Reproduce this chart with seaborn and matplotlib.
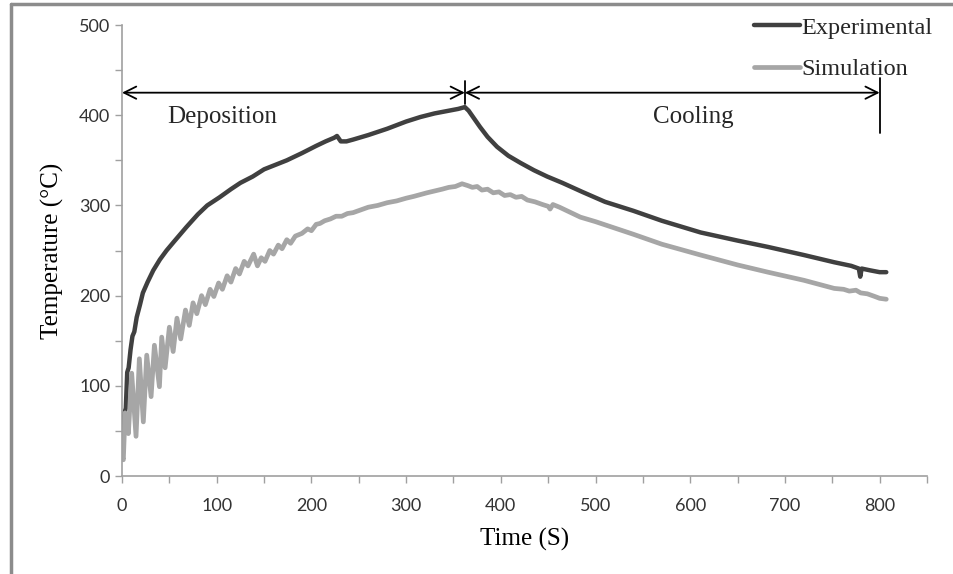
import pandas as pd
import matplotlib.pyplot as plt
import seaborn as sns
from matplotlib.lines import Line2D

# Experimental thermocouple curve
exp_time = [0, 1, 2.5, 4, 5.5, 7, 9, 11, 13, 15.5, 19, 22, 27, 33, 40, 47, 55, 68, 80, 90,
            103, 115, 125, 138, 150, 162, 174, 190, 205, 215, 224, 227, 231, 237, 244, 260,
            280, 300, 315, 330, 345, 355, 362, 366, 372, 378, 386, 396, 408, 421, 435, 449,
            465, 486, 510, 540, 570, 611, 650, 682, 720, 752, 770, 778, 779.5, 781, 790, 800, 807]
exp_temp = [20, 40, 70, 75, 115, 120, 140, 155, 160, 176, 190, 203, 215, 228, 240, 250, 260, 276, 290, 300,
            309, 318, 325, 332, 340, 345, 350, 358, 366, 371, 375, 377, 371, 371, 373, 378,
            385, 393, 398, 402, 405, 407, 409, 405, 396, 387, 376, 365, 355, 347, 339, 332,
            325, 315, 304, 294, 283, 270, 261, 254, 245, 237, 233, 230, 221, 230, 228, 226, 226]

# Simulation curve (oscillating during deposition)
sim_time = [0, 1.4, 3.2, 6.7, 10.2, 14.8, 18.3, 22.5, 26.1, 30.7, 34.2, 39.5, 41.9, 45.5, 50, 54, 58, 62,
            67, 71, 75, 79, 84, 88, 93, 97, 102, 106, 111, 115, 120, 124, 129, 133, 139, 143, 147,
            151, 156, 160, 165, 169, 174, 178, 183, 190, 196, 200, 205, 209, 214, 220, 226, 232,
            238, 244, 252, 260, 270, 280, 290, 300, 308, 315, 322, 330, 338, 345, 352, 359, 365,
            370, 375, 380, 386, 392, 398, 404, 410, 416, 422, 428, 436, 444, 450, 452, 455, 462,
            472, 484, 500, 520, 540, 570, 611, 650, 682, 720, 752, 762, 768, 775, 780, 787, 795, 800, 807]
sim_temp = [22, 18, 70, 47, 114, 44, 130, 60, 134, 88, 145, 99, 154, 120, 165, 138, 175, 152,
            184, 167, 192, 180, 200, 190, 207, 199, 214, 207, 222, 215, 230, 224, 238, 233, 246, 233, 242,
            238, 250, 246, 256, 252, 262, 258, 266, 269, 274, 272, 279, 280, 283, 285, 288, 288,
            291, 292, 295, 298, 300, 303, 305, 308, 310, 312, 314, 316, 318, 320, 321, 324, 322,
            320, 321, 317, 318, 314, 315, 311, 312, 309, 310, 306, 304, 301, 299, 296, 301, 298,
            293, 287, 282, 275, 268, 257, 245, 234, 226, 217, 208, 207, 205, 206, 203, 202, 199, 197, 196]

x_ticks = [0, 100, 200, 300, 400, 500, 600, 700, 800]
y_ticks = [0, 100, 200, 300, 400, 500]

exp_df = pd.DataFrame({'Time': exp_time, 'Temp': exp_temp})
sim_df = pd.DataFrame({'Time': sim_time, 'Temp': sim_temp})

sns.set_theme(style='ticks')
plt.rcParams['font.family'] = ['Liberation Serif', 'DejaVu Serif']

fig = plt.figure(figsize=(9.54, 5.74), dpi=100)
ax = fig.add_axes([0.1279, 0.1707, 0.9717 - 0.1279, 0.9564 - 0.1707])

sns.lineplot(data=exp_df, x='Time', y='Temp', color='#404040', lw=3.2, ax=ax, label='Experimental')
sns.lineplot(data=sim_df, x='Time', y='Temp', color='#a6a6a6', lw=3.4, ax=ax, label='Simulation')

ax.set_xlim(0, 850)
ax.set_ylim(0, 500)
ax.set_xticks(x_ticks)
ax.set_yticks(y_ticks)
ax.set_xticks([50, 150, 250, 350, 450, 550, 650, 750, 850], minor=True)
ax.set_yticks([50, 150, 250, 350, 450], minor=True)
ax.tick_params(which='both', length=5, width=1, color='#a0a0a0', direction='out')
for lab in ax.get_xticklabels() + ax.get_yticklabels():
    lab.set_fontfamily('Lato')
    lab.set_fontsize(13)
    lab.set_color('#333333')
ax.tick_params(axis='x', pad=11)
ax.tick_params(axis='y', pad=3.5)

sns.despine(ax=ax)
for side in ['left', 'bottom']:
    ax.spines[side].set_color('#a0a0a0')
    ax.spines[side].set_linewidth(1.2)

ax.set_xlabel('Time (S)', fontsize=18, color='black', labelpad=10)
ax.set_ylabel('Temperature (°C)', fontsize=18, color='black', labelpad=11)

# phase arrows
arrow_kw = dict(arrowstyle='<->', color='black', lw=1.3, mutation_scale=22, shrinkA=0, shrinkB=0)
ax.annotate('', xy=(0, 425), xytext=(362, 425), arrowprops=arrow_kw)
ax.annotate('', xy=(362, 425), xytext=(800, 425), arrowprops=arrow_kw)
ax.plot([362, 362], [412, 438], color='black', lw=1.3)
ax.plot([800, 800], [380, 441], color='black', lw=1.3)
ax.text(106, 398, 'Deposition', fontsize=18, ha='center', va='center')
ax.text(603, 398, 'Cooling', fontsize=18, ha='center', va='center')

ax.legend(loc='upper right', bbox_to_anchor=(0.977, 0.971), bbox_transform=fig.transFigure,
          frameon=False, fontsize=17.5, handlelength=1.9, handletextpad=0.05,
          labelspacing=0.8, borderpad=0, borderaxespad=0)

# outer frame
fig.add_artist(Line2D([0.0115, 0.0115], [0, 0.993], color='#8c8c8c', lw=2.5))
fig.add_artist(Line2D([0.0115, 1.0], [0.993, 0.993], color='#8c8c8c', lw=2.5))

plt.savefig('out.png', dpi=100)
